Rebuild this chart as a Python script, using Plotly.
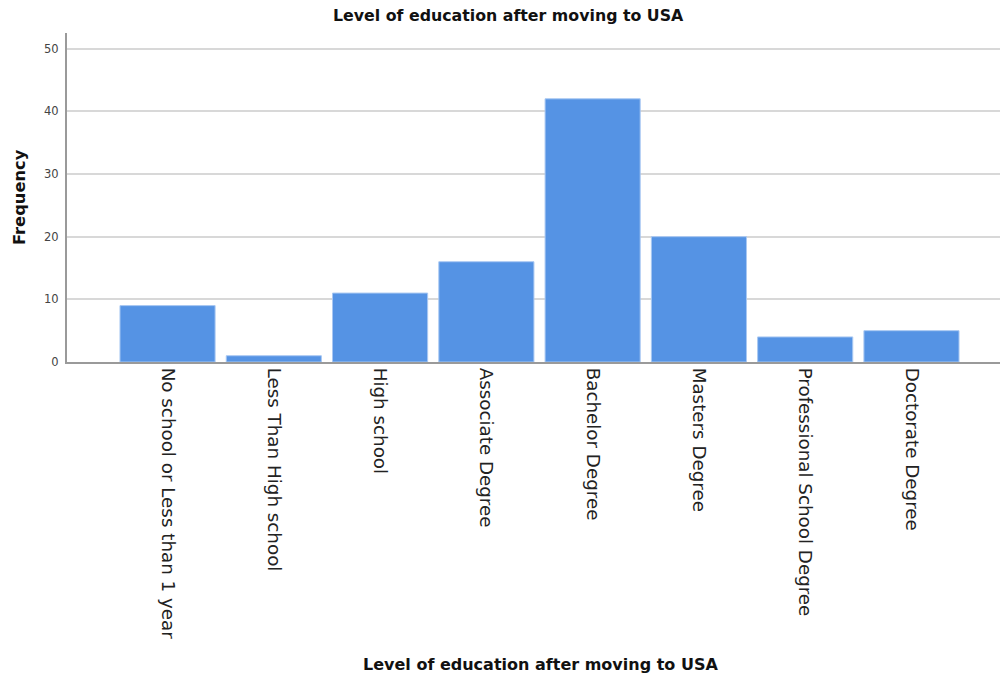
import plotly.graph_objects as go

categories = ["No school or Less than 1 year", "Less Than High school", "High school",
              "Associate Degree", "Bachelor Degree", "Masters Degree",
              "Professional School Degree", "Doctorate Degree"]
frequency = [9, 1, 11, 16, 42, 20, 4, 5]
y_ticks = [0, 10, 20, 30, 40, 50]

FONT = "DejaVu Sans"
L, R, T, B = 67, 1000, 33, 362  # plot area in pixels

fig = go.Figure(go.Bar(
    x=list(range(len(categories))), y=frequency,
    marker=dict(color="#5593E4", line=dict(color="#A9C8F2", width=1)),
    width=0.895,
))

def px(x):
    return (x - L) / (R - L)

def py(y):
    return (B - y) / (B - T)

fig.update_layout(
    width=1002, height=681,
    margin=dict(l=L, r=1002 - R, t=T, b=681 - B),
    paper_bgcolor="white", plot_bgcolor="white",
    showlegend=False,
    font=dict(family=FONT),
    annotations=[
        dict(text="<b>Level of education after moving to USA</b>", xref="paper", yref="paper",
             x=px(508), y=py(16), xanchor="center", yanchor="middle",
             showarrow=False, font=dict(family=FONT, size=15.8, color="#111111")),
        dict(text="<b>Level of education after moving to USA</b>", xref="paper", yref="paper",
             x=px(540), y=py(664), xanchor="center", yanchor="middle",
             showarrow=False, font=dict(family=FONT, size=16, color="#111111")),
        dict(text="<b>Frequency</b>", xref="paper", yref="paper",
             x=px(19), y=py(197), xanchor="center", yanchor="middle",
             textangle=-90, showarrow=False, font=dict(family=FONT, size=16.3, color="#111111")),
    ],
)

fig.update_xaxes(
    tickmode="array", tickvals=list(range(len(categories))), ticktext=categories,
    tickangle=90, range=[-0.946, 7.833], automargin=False,
    tickfont=dict(family=FONT, size=18.3, color="#222222"),
    showline=True, linecolor="#9a9a9a", linewidth=2,
    showgrid=False, ticks="", ticklen=2,
)
fig.update_yaxes(
    range=[0, 52.5], tickmode="array", tickvals=y_ticks, automargin=False,
    tickfont=dict(family=FONT, size=11.5, color="#444444"),
    showline=True, linecolor="#9a9a9a", linewidth=2,
    showgrid=True, gridcolor="#d8d8d8", gridwidth=1.5,
    zeroline=False, ticks="", ticklen=0, ticklabelstandoff=4,
)

fig.write_html("out.html", config={"displayModeBar": False},
               post_script="document.body.style.margin='0px';")
